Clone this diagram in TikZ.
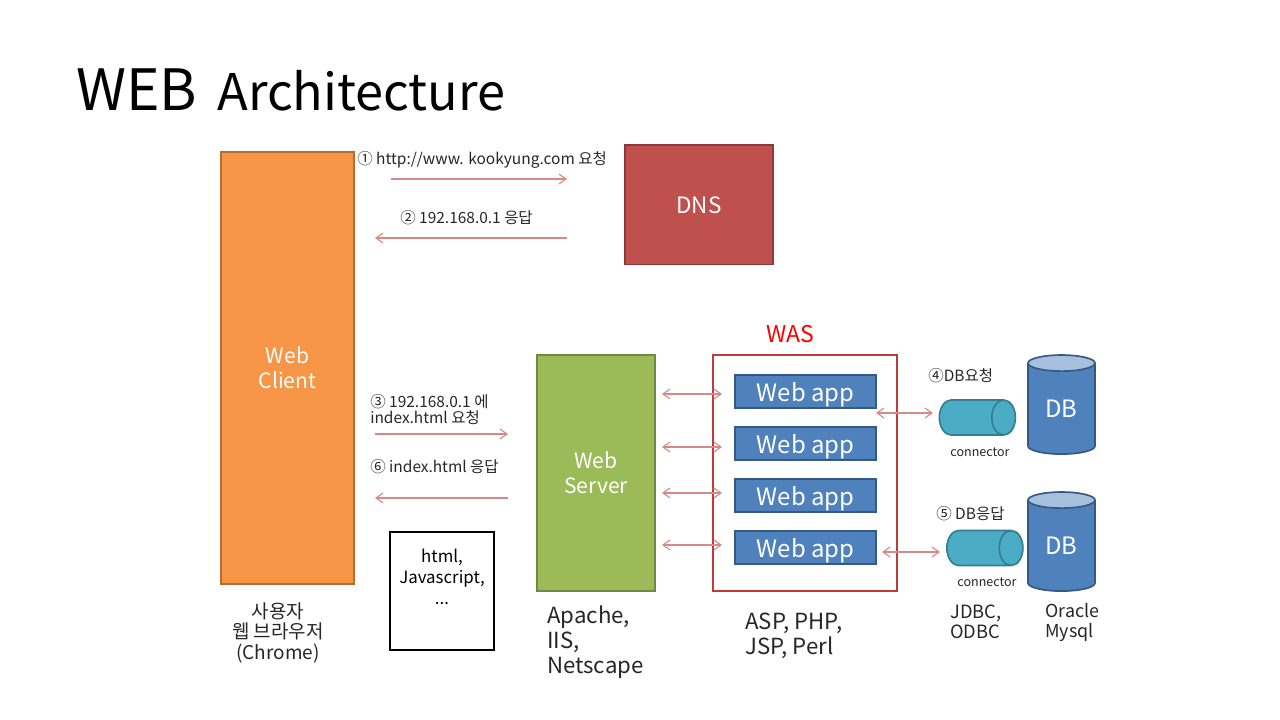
\documentclass[tikz,border=0pt]{standalone}
\usepackage{fontspec}
\setmainfont{Noto Sans CJK KR}
\usetikzlibrary{arrows.meta}
\usetikzlibrary{shapes.geometric}
\definecolor{arrowred}{HTML}{D98886}
\definecolor{appblue}{HTML}{4F81BD}
\definecolor{connteal}{HTML}{4BACC6}
\definecolor{conndark}{HTML}{357D91}
\definecolor{dbtop}{HTML}{A7C0DE}
\tikzset{
	block/.style={draw,line width=1.4pt,text=white,font=\fontsize{15}{18}\selectfont,align=center},
	app/.style={fill=appblue,draw=appblue!70!black,line width=1pt,text=white,minimum width=3.525cm,minimum height=0.825cm,inner sep=0pt,text height=16pt,text depth=2pt,font=\fontsize{17}{20}\selectfont},
	conn/.style={cylinder,draw=conndark,line width=1.2pt,cylinder uses custom fill,cylinder body fill=connteal,cylinder end fill=connteal,shape aspect=1.4,minimum height=1.9cm,minimum width=0.875cm,inner sep=6pt},
	dbcyl/.style={cylinder,shape border rotate=90,draw=appblue!70!black,line width=1.2pt,cylinder uses custom fill,cylinder body fill=appblue,cylinder end fill=dbtop,shape aspect=0.5,minimum height=2.475cm,minimum width=1.675cm,inner sep=0pt,text=white,font=\fontsize{17}{20}\selectfont},
	msg/.style={text=black!85,font=\fontsize{11}{11.4}\selectfont,align=left,inner sep=0pt},
	caption/.style={text=black!85,font=\fontsize{15.8}{17.8}\selectfont,align=left,inner sep=0pt},
	flow/.style={draw=arrowred,line width=0.8pt,>={Straight Barb[length=5pt,width=7pt]}}
}
\begin{document}
\begin{tikzpicture}[x=0.025cm,y=-0.025cm]
	\useasboundingbox (0,0) rectangle (1280,720);
	\node (title) at (76,90) [anchor=west,inner sep=0pt,font=\fontsize{40.5}{48}\selectfont] {WEB\hspace{9.5pt}\hspace{0.12em}{\fontsize{35.9}{48}\selectfont Architecture}};

	\node (client) at (287.5,368) [block,fill={rgb,255:red,247;green,150;blue,70},draw={rgb,255:red,182;green,109;blue,49},minimum width=3.325cm,minimum height=10.8cm] {Web\\Client};
	\node (dns) at (699,205) [block,fill={rgb,255:red,192;green,80;blue,77},draw={rgb,255:red,140;green,56;blue,54},minimum width=3.7cm,minimum height=2.975cm,font=\fontsize{16}{18}\selectfont] {DNS};
	\node (server) at (596,473) [block,fill={rgb,255:red,155;green,187;blue,89},draw={rgb,255:red,113;green,137;blue,63},minimum width=2.95cm,minimum height=5.9cm] {Web\\Server};
	\node (was) at (805,473) [draw={rgb,255:red,192;green,60;blue,60},line width=1.5pt,minimum width=4.6cm,minimum height=5.9cm] {};
	\node (waslabel) at (790,334) [text=red,font=\fontsize{16.4}{19}\selectfont] {WAS};

	\node (app1) at (805.5,391.5) [app] {Web app};
	\node (app2) at (805.5,443.5) [app] {Web app};
	\node (app3) at (805.5,495.5) [app] {Web app};
	\node (app4) at (805.5,547.5) [app] {Web app};

	\node (doc) at (442,591) [draw,line width=1.5pt,minimum width=2.6cm,minimum height=2.95cm] {};
	\node (doctext) at (442,577) [align=center,font=\fontsize{12}{15}\selectfont] {html,\\Javascript,\\...};

	\node (conn1) at (966,417.5) [conn] {};
	\node (conn2) at (973.5,548) [conn] {};
	\node (db1) at (1061.5,409) [dbcyl] {DB};
	\node (db2) at (1061.5,546) [dbcyl] {DB};

	% message arrows
	\coordinate (a1) at (391,179);
	\coordinate (b1) at (567,179);
	\coordinate (a2) at (567,238);
	\coordinate (b2) at (375,238);
	\coordinate (a3) at (375,434);
	\coordinate (b3) at (508,434);
	\coordinate (a6) at (508,498);
	\coordinate (b6) at (375,498);
	\draw[flow,->] (a1) -- (b1);
	\draw[flow,->] (a2) -- (b2);
	\draw[flow,->] (a3) -- (b3);
	\draw[flow,->] (a6) -- (b6);

	\coordinate (s1) at (662,394);
	\coordinate (w1) at (722,394);
	\coordinate (s2) at (662,447);
	\coordinate (w2) at (722,447);
	\coordinate (s3) at (662,493);
	\coordinate (w3) at (722,493);
	\coordinate (s4) at (662,545);
	\coordinate (w4) at (722,545);
	\draw[flow,<->] (s1) -- (w1);
	\draw[flow,<->] (s2) -- (w2);
	\draw[flow,<->] (s3) -- (w3);
	\draw[flow,<->] (s4) -- (w4);

	\coordinate (d1) at (876,413);
	\coordinate (e1) at (933,413);
	\coordinate (d2) at (882,552);
	\coordinate (e2) at (940,552);
	\draw[flow,<->] (d1) -- (e1);
	\draw[flow,<->] (d2) -- (e2);

	\node (m1) at (357,160) [msg,anchor=west] {① http://www. kookyung.com 요청};
	\node (m2) at (400,218) [msg,anchor=west] {② 192.168.0.1 응답};
	\node (m3) at (370,410) [msg,anchor=west] {③ 192.168.0.1 에\\index.html 요청};
	\node (m6) at (370,467) [msg,anchor=west] {⑥ index.html 응답};
	\node (m4) at (928,376) [msg,anchor=west] {④DB요청};
	\node (m5) at (936,514) [msg,anchor=west] {⑤ DB응답};
	\node (c1) at (980,452) [msg,font=\fontsize{8.9}{10}\selectfont] {connector};
	\node (c2) at (987,582) [msg,font=\fontsize{8.9}{10}\selectfont] {connector};

	\node (user) at (278,633) [msg,align=center,font=\fontsize{13.5}{14.5}\selectfont] {사용자\\웹 브라우저\\(Chrome)};
	\node (srv) at (547,642) [caption,anchor=west] {Apache,\\IIS,\\Netscape};
	\node (lang) at (745,636) [caption,anchor=west] {ASP, PHP,\\JSP, Perl};
	\node (jdbc) at (950,622) [msg,anchor=west,font=\fontsize{13}{14.2}\selectfont] {JDBC,\\ODBC};
	\node (ora) at (1045,622) [msg,anchor=west,font=\fontsize{12.7}{14.2}\selectfont] {Oracle\\Mysql};
\end{tikzpicture}
\end{document}
